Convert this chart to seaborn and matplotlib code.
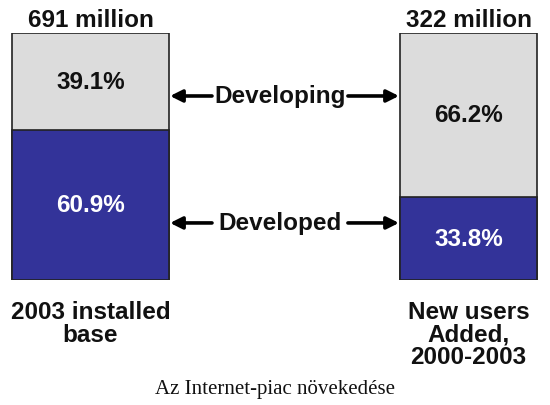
import matplotlib
matplotlib.use("Agg")
import matplotlib.pyplot as plt
import seaborn as sns
import pandas as pd

# ---- data ----
categories = ["2003 installed\nbase", "New users\nAdded,\n2000-2003"]
totals = ["691 million", "322 million"]
developing = [39.1, 66.2]
developed = [60.9, 33.8]
segment_names = ["Developing", "Developed"]
caption = "Az Internet-piac növekedése"

# ---- style ----
sns.set_theme(style="white")
plt.rcParams["font.family"] = ["Liberation Sans", "DejaVu Sans"]

GREY = "#DCDCDC"
BLUE = "#333399"
W, H = 550, 406

fig = plt.figure(figsize=(W / 100, H / 100), dpi=100)
# axes: bars span pixel y 34..281
ax = fig.add_axes([0, (H - 281) / H, 1, (281 - 34) / H])

df = pd.DataFrame({
    "cat": categories,
    "total": [a + b for a, b in zip(developing, developed)],
    "developed": developed,
})

sns.barplot(data=df, x="cat", y="total", color=GREY, saturation=1,
            edgecolor="#222222", linewidth=1.2, ax=ax, order=categories)
sns.barplot(data=df, x="cat", y="developed", color=BLUE, saturation=1,
            edgecolor="#222222", linewidth=1.2, ax=ax, order=categories)

# bar widths differ in the reference
bar_widths = [0.415, 0.362]
for i, p in enumerate(ax.patches):
    k = i % 2
    c = p.get_x() + p.get_width() / 2
    p.set_x(c - bar_widths[k] / 2)
    p.set_width(bar_widths[k])

ax.set_xlim(-0.2394, 1.2156)
ax.set_ylim(0, 100)
ax.axis("off")

fs = 17.5
for i in range(2):
    # segment labels
    ax.text(i, developed[i] + developing[i] / 2, f"{developing[i]}%",
            ha="center", va="center", fontsize=fs, fontweight="bold", color="#111111")
    ax.text(i, developed[i] / 2, f"{developed[i]}%",
            ha="center", va="center", fontsize=fs, fontweight="bold", color="white")
    # totals above
    ax.annotate(totals[i], (i, 100), xytext=(0, 10), textcoords="offset points",
                ha="center", va="center", fontsize=fs, fontweight="bold", color="#111111")
    # category labels below
    ax.annotate(categories[i], (i, 0), xytext=(0, -14.5), textcoords="offset points",
                ha="center", va="top", fontsize=fs, fontweight="bold", color="#111111",
                linespacing=0.97, annotation_clip=False)

# arrows between the bars
left_edge = bar_widths[0] / 2
right_edge = 1 - bar_widths[1] / 2
arrow_y = [74.5, 23.1]
for name, y in zip(segment_names, arrow_y):
    ax.text(0.5013, y, name, ha="center", va="center", fontsize=fs,
            fontweight="bold", color="#111111")
    ap = dict(arrowstyle="-|>", lw=2.6, color="black", mutation_scale=18,
              shrinkA=0, shrinkB=0)
    ax.annotate("", xy=(left_edge + 0.003, y), xytext=(0.3214, y), arrowprops=ap)
    ax.annotate("", xy=(right_edge - 0.003, y), xytext=(0.681, y), arrowprops=ap)

fig.text(0.5, (H - 390) / H, caption, ha="center", va="center",
         fontsize=15, family=["Liberation Serif", "DejaVu Serif"], color="#111111")

fig.savefig("out.png", dpi=100, facecolor="white")
